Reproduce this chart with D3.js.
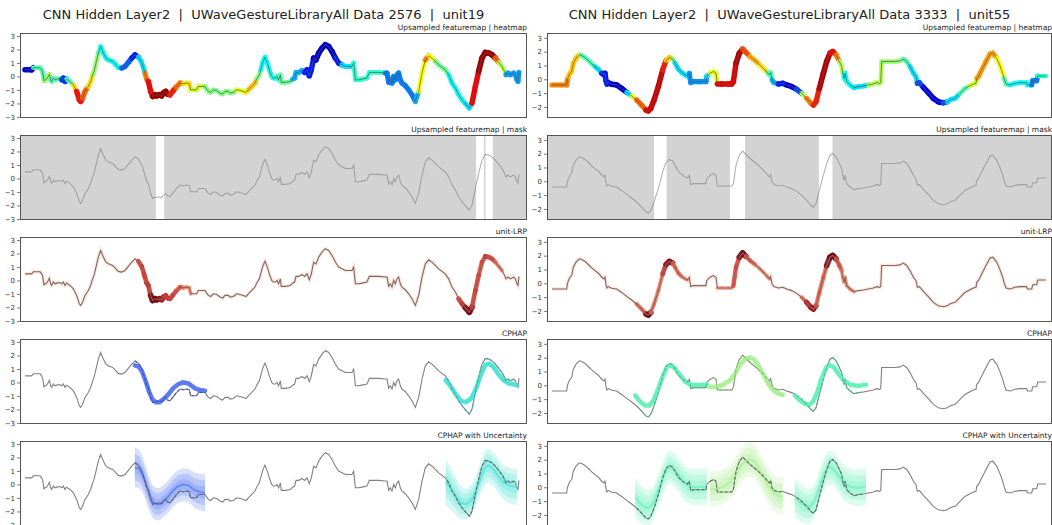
<!DOCTYPE html>
<html><head><meta charset="utf-8">
<script src="https://cdn.jsdelivr.net/npm/d3@7"></script>
<style>
body{margin:0;background:#fff}
text{font-family:"DejaVu Sans",sans-serif;white-space:pre}
</style>
</head><body>
<svg id="c" width="1052" height="525"></svg>
<script>
// ---------------- DATA ----------------
const titles = ["CNN Hidden Layer2  |  UWaveGestureLibraryAll Data 2576  |  unit19",
                "CNN Hidden Layer2  |  UWaveGestureLibraryAll Data 3333  |  unit55"];
const panelTitles = ["Upsampled featuremap | heatmap","Upsampled featuremap | mask","unit-LRP","CPHAP","CPHAP with Uncertainty"];
const yTicksLeft = [-3,-2,-1,0,1,2,3];
const yTicksRight = [-2,-1,0,1,2,3];

const leftSeries = [[0,0.49],[12.7,0.49],[15.9,0.64],[28.7,0.64],[31.9,0.49],[33.8,0.30],[36.3,-0.32],[38.2,-0.25],[41.4,-0.20],[44.6,0.0],[46.5,0.15],[49.1,-0.25],[51,-0.37],[54.2,-0.12],[57.3,-0.25],[60.5,-0.20],[66.9,-0.15],[70.1,-0.25],[73.3,-0.12],[76.4,-0.37],[79.6,-0.20],[86,-0.37],[92.4,-0.62],[98.7,-1.11],[103.8,-1.73],[106.4,-1.85],[110.2,-1.60],[114.7,-1.11],[121,-0.74],[125.5,-0.37],[129.3,0.12],[131.9,0.37],[135.7,0.99],[140.1,1.73],[144.6,2.22],[149.7,1.73],[154.8,1.36],[159.3,1.23],[167.5,1.11],[172,0.94],[178.4,0.67],[184.7,0.62],[191.1,0.74],[197.5,1.04],[203.8,1.36],[210.2,1.60],[216.6,1.43],[223,1.04],[227.4,0.49],[229.3,0.25],[232.5,-0.20],[235.7,-0.37],[240.1,-1.11],[244,-1.48],[248.4,-1.36],[251.6,-1.43],[256.7,-1.36],[261.2,-1.43],[264.4,-1.23],[268.8,-1.11],[272.6,-1.31],[277.1,-1.36],[282.2,-1.11],[288.6,-0.79],[296.2,-0.49],[302.6,-0.54],[308.9,-0.49],[314,-0.54],[316.6,-0.99],[328,-0.99],[331.2,-0.74],[344,-0.74],[347.2,-0.94],[350.4,-1.11],[354.8,-1.19],[359.9,-0.99],[366.3,-1.04],[372.6,-1.23],[377.7,-1.31],[382.2,-1.11],[388.6,-1.11],[391.8,-1.23],[398.1,-1.19],[404.5,-0.99],[410.9,-1.04],[417.2,-1.11],[422.3,-1.19],[426.8,-0.99],[433.2,-0.74],[439.5,-0.49],[442.7,-0.20],[447.8,0.12],[450.4,0.49],[454.2,1.04],[458.6,1.43],[463.1,0.99],[466.9,0.49],[471.4,0.0],[474.6,-0.12],[478.4,-0.12],[481.6,0.0],[484.7,-0.25],[487.9,0.12],[489.8,-0.44],[497.5,-0.44],[507,-0.37],[511.5,-0.20],[515.3,-0.12],[517.9,0.30],[523,0.30],[529.3,0.44],[534.4,0.30],[538.9,0.49],[543.3,0.05],[547.2,0.49],[551.6,1.36],[556.1,1.23],[561.2,1.73],[567.6,2.10],[573.9,2.35],[580.3,2.22],[586.7,1.85],[593,1.36],[599.4,0.99],[605.8,0.86],[612.1,0.74],[618.5,0.74],[624.9,0.74],[628.1,0.99],[631.3,-0.25],[637.6,-0.25],[644,-0.20],[653.5,-0.12],[658,0.30],[663.1,0.30],[675.8,0.30],[688.6,0.25],[691.8,0.25],[695,-0.44],[698.1,-0.25],[701.3,-0.49],[704.5,0.0],[707.7,-0.25],[710.9,0.12],[714.1,0.25],[717.2,-0.25],[720.4,-0.49],[726.8,-0.69],[733.2,-0.99],[739.5,-1.36],[745.9,-1.85],[752.3,-1.11],[758.7,0.25],[765,1.23],[771.4,1.53],[777.8,1.36],[784.1,1.11],[790.5,0.86],[796.9,0.67],[803.2,0.49],[806.4,0.30],[809.6,0.12],[816,-0.49],[822.4,-0.86],[828.7,-1.36],[835.1,-1.73],[841.5,-2.02],[849.1,-2.35],[854.2,-1.98],[860.6,-0.74],[866.9,0.37],[873.3,1.36],[879.7,1.78],[886.1,1.73],[892.4,1.60],[898.8,1.36],[905.2,1.04],[911.5,0.74],[916.6,0.37],[919.2,0.12],[923,0.25],[927.5,0.12],[933.8,0.25],[937,0.12],[940.2,-0.25],[942.1,-0.37],[944,0.30]];

const rightSeries = [[0,-0.41],[28.1,-0.41],[29.3,-0.05],[31.3,0.19],[34.4,0.44],[37.6,0.56],[40.8,1.17],[45.9,1.53],[52.3,1.77],[56.7,1.72],[63.1,1.58],[69.5,1.36],[75.8,1.12],[82.2,0.92],[88.6,0.73],[95,0.44],[99.4,0.32],[101.3,0.44],[103.2,-0.10],[105.1,-0.34],[107.7,-0.24],[114.1,-0.36],[123.6,-0.41],[133.2,-0.66],[142.7,-0.95],[152.3,-1.21],[161.8,-1.50],[171.4,-1.87],[179.7,-2.23],[184.1,-2.28],[188.6,-2.11],[195,-1.50],[203.2,-0.53],[211.5,0.68],[217.9,1.36],[224.3,1.58],[230.6,1.46],[235.1,1.17],[241.5,0.73],[247.8,0.49],[254.2,0.32],[258.7,0.24],[262.5,0.44],[265,-0.24],[270.1,-0.17],[279.7,-0.17],[294.3,-0.17],[295.6,0.19],[302,0.44],[308.4,0.56],[313.4,0.44],[316,-0.34],[324.3,-0.34],[337,-0.34],[343.4,-0.34],[346.6,-0.17],[351.7,1.17],[358,1.89],[364.4,2.18],[370.8,1.94],[378.4,1.65],[388,1.36],[397.5,1.04],[403.9,0.80],[411.5,0.49],[415.4,0.32],[417.9,0.49],[420.5,-0.05],[424.3,-0.24],[432.6,-0.34],[440.8,-0.29],[448.5,-0.41],[458,-0.53],[467.6,-0.73],[477.2,-1.02],[486.7,-1.38],[495,-1.75],[499.5,-1.87],[504.5,-1.63],[510.9,-0.66],[518.6,0.44],[524.9,1.29],[531.3,1.89],[536.4,2.01],[542.8,1.77],[549.1,1.29],[553.6,0.92],[555.5,0.44],[558.1,0.07],[560,0.44],[563.2,-0.17],[569.5,-0.41],[577.2,-0.61],[585.4,-0.53],[595,-0.49],[604.6,-0.41],[614.1,-0.34],[620.5,-0.24],[625.6,-0.29],[628.1,-0.24],[630,1.29],[642.8,1.29],[655.5,1.29],[665.1,1.33],[671.4,1.46],[677.8,1.29],[684.2,0.92],[690.6,0.44],[695.6,0.19],[698.2,-0.29],[702,-0.24],[709.7,-0.58],[719.2,-0.97],[728.8,-1.38],[738.3,-1.63],[747.9,-1.70],[755.5,-1.63],[761.9,-1.46],[770.2,-1.38],[779.7,-1.02],[789.3,-0.66],[797.6,-0.49],[805.2,-0.34],[810.3,-0.29],[811.6,0.07],[814.8,0.19],[821.1,0.68],[829.4,1.29],[837.1,1.84],[842.2,1.89],[849.8,1.53],[856.2,0.97],[861.3,0.44],[863.8,0.07],[867.6,-0.34],[875.3,-0.41],[884.8,-0.29],[894.4,-0.24],[907.1,-0.24],[908.4,-0.41],[916.7,-0.41],[918.6,-0.10],[926.2,-0.10],[928.2,0.24],[944,0.24]];

// heatmap activation: [tStart, tEnd, level 0..1]
const leftHeat = [[0,16,0.08],[16,36,0.45],[36,49,0.52],[49,71,0.45],[71,81,0.18],[81,91,0.45],[91,97,0.65],[97,110,0.86],[110,123,0.78],[123,129,0.65],[129,139,0.52],[139,146,0.45],[146,184,0.38],[184,207,0.22],[207,216,0.15],[216,229,0.35],[229,236,0.75],[236,245,0.88],[245,275,0.97],[275,287,0.85],[287,304,0.76],[304,316,0.65],[316,339,0.58],[339,404,0.5],[404,429,0.6],[429,442,0.68],[442,452,0.5],[452,468,0.38],[468,487,0.4],[487,513,0.48],[513,536,0.3],[536,552,0.15],[552,591,0.07],[591,603,0.15],[603,629,0.35],[629,687,0.42],[687,745,0.25],[745,755,0.3],[755,762,0.62],[762,774,0.75],[774,784,0.62],[784,810,0.48],[810,845,0.38],[845,855,0.35],[855,865,0.88],[865,900,0.97],[900,907,0.78],[907,920,0.55],[920,945,0.28]];
const rightHeat = [[0,31,0.75],[31,52,0.68],[52,57,0.55],[57,82,0.45],[82,95,0.35],[95,111,0.15],[111,143,0.07],[143,152,0.35],[152,162,0.6],[162,178,0.78],[178,190,0.9],[190,212,0.92],[212,220,0.85],[220,228,0.68],[228,238,0.5],[238,263,0.35],[263,296,0.27],[296,305,0.35],[305,315,0.6],[315,350,0.9],[350,365,0.95],[365,375,0.8],[375,397,0.7],[397,410,0.65],[410,420,0.45],[420,430,0.3],[430,445,0.15],[445,470,0.08],[470,475,0.2],[475,484,0.55],[484,498,0.75],[498,510,0.85],[510,530,0.95],[530,540,0.88],[540,550,0.75],[550,557,0.55],[557,575,0.38],[575,608,0.35],[608,630,0.55],[630,672,0.52],[672,685,0.45],[685,697,0.35],[697,710,0.2],[710,748,0.1],[748,758,0.2],[758,778,0.35],[778,798,0.45],[798,811,0.58],[811,850,0.72],[850,863,0.62],[863,875,0.45],[875,913,0.38],[913,933,0.25],[933,945,0.42]];

// mask: unmasked windows [tStart, tEnd]
const leftMaskGaps = [[250,266],[862,877],[880,894]];
const rightMaskGaps = [[195,219],[340,369],[510,536]];

// unit-LRP relevance: [tStart, tEnd, level 0..1]
const leftLRP = [[215,234,0.55],[234,241,0.6],[241,257,0.95],[257,263,0.8],[263,276,0.6],[276,289,0.55],[289,305,0.45],[305,318,0.2],[827,840,0.6],[840,856,0.95],[856,869,0.55],[869,879,0.5],[879,888,0.6],[888,901,0.5],[901,910,0.25]];
const rightLRP = [[162,178,0.35],[178,189,0.95],[189,213,0.3],[213,219,0.6],[219,231,0.9],[231,245,0.35],[245,260,0.2],[315,347,0.15],[347,359,0.5],[359,372,0.95],[372,391,0.4],[391,415,0.2],[480,490,0.35],[490,503,0.8],[503,525,0.4],[525,541,0.95],[541,554,0.45],[554,576,0.2]];

// CPHAP prototypes [t, value] with per-point uncertainty (sigma)
const leftBlueProto = [[210,1.27],[218,1.15],[224,0.78],[231,0.05],[237,-0.68],[244,-1.29],[250,-1.46],[257,-1.46],[263,-1.29],[273,-0.93],[283,-0.44],[292,-0.15],[302,0.0],[312,-0.07],[318,-0.24],[325,-0.44],[334,-0.56],[344,-0.61]];
const leftBlueSigma = [0.5,0.47,0.44,0.42,0.41,0.4,0.4,0.4,0.4,0.4,0.4,0.4,0.4,0.41,0.42,0.44,0.45,0.47];
const leftCyanProto = [[804,0.17],[814,-0.32],[824,-0.93],[833,-1.37],[843,-1.46],[853,-1.17],[862,-0.44],[872,0.66],[880,1.32],[887,1.39],[895,1.15],[905,0.59],[914,0.17],[924,-0.07],[940,-0.2]];
const leftCyanSigma = [0.58,0.52,0.46,0.41,0.38,0.38,0.38,0.4,0.42,0.42,0.42,0.42,0.43,0.44,0.45];
const rightProto1 = [[159,-0.73],[168,-1.17],[178,-1.46],[186,-1.46],[194,-1.10],[203,-0.24],[213,0.78],[220,1.34],[227,1.46],[235,1.22],[245,0.73],[254,0.29],[264,0.05],[276,0.0],[296,0.05]];
const rightSigma1 = [0.48,0.46,0.44,0.42,0.4,0.4,0.4,0.4,0.4,0.4,0.41,0.42,0.43,0.44,0.44];
const rightProto2 = [[302,-0.12],[315,-0.12],[327,0.05],[340,0.37],[350,0.85],[359,1.46],[369,1.90],[378,2.02],[386,1.88],[394,1.46],[404,0.78],[413,0.12],[423,-0.37],[432,-0.61],[441,-0.68]];
const rightSigma2 = [0.42,0.42,0.42,0.42,0.42,0.42,0.42,0.42,0.42,0.42,0.42,0.42,0.43,0.44,0.45];
const rightProto3 = [[464,-0.73],[474,-1.10],[484,-1.34],[492,-1.41],[499,-1.17],[507,-0.49],[515,0.49],[524,1.27],[530,1.46],[538,1.34],[547,0.85],[557,0.37],[570,0.05],[585,-0.05],[600,0.05]];
const rightSigma3 = [0.48,0.46,0.44,0.42,0.4,0.4,0.4,0.4,0.4,0.4,0.41,0.42,0.43,0.44,0.45];
const bandLevels = [3,2,1];

// ---------------- DRAWING ----------------
const svg = d3.select("#c");
const panelTops = [33,135,237,339,441];
const PH = 85;
const jet = h => { const c = x => Math.max(0, Math.min(1, x));
  return d3.rgb(255*c(1.5-Math.abs(4*h-3)), 255*c(1.5-Math.abs(4*h-2)), 255*c(1.5-Math.abs(4*h-1))).toString(); };
const segVal = (segs, t) => { for (const s of segs) if (t >= s[0] && t < s[1]) return s[2]; return null; };

const cols = [
  {x0:20, pw:507, titleX:263.5, title:titles[0], series:leftSeries, heat:leftHeat, gaps:leftMaskGaps, lrp:leftLRP,
   yDom:[-3.08,3.22], ticks:yTicksLeft,
   protos:[{p:leftBlueProto,s:leftBlueSigma,c:"#4a6cf0"},{p:leftCyanProto,s:leftCyanSigma,c:"#3ee0d0"}]},
  {x0:547, pw:505, titleX:789.5, title:titles[1], series:rightSeries, heat:rightHeat, gaps:rightMaskGaps, lrp:rightLRP,
   yDom:[-2.8,3.35], ticks:yTicksRight,
   protos:[{p:rightProto1,s:rightSigma1,c:"#5af0b4"},{p:rightProto2,s:rightSigma2,c:"#a4ee8c"},{p:rightProto3,s:rightSigma3,c:"#5af0b4"}]}
];

cols.forEach((col, ci) => {
  const PW = col.pw;
  svg.append("text").attr("x", col.titleX).attr("y", 18.5).attr("text-anchor","middle")
    .attr("font-size", 13).attr("fill","#222").text(col.title);
  const x = d3.scaleLinear().domain([-9.55, 959.3]).range([col.x0, col.x0 + 507]);
  panelTitles.forEach((pt, pi) => {
    const top = panelTops[pi];
    const y = d3.scaleLinear().domain(col.yDom).range([top + PH, top]);
    const cid = `clip${ci}_${pi}`;
    svg.append("clipPath").attr("id", cid).append("rect")
      .attr("x", col.x0).attr("y", top).attr("width", PW).attr("height", PH);
    const g = svg.append("g").attr("clip-path", `url(#${cid})`);
    const line = d3.line().x(d => x(d[0])).y(d => y(d[1]));

    if (pi === 0) {
      const s = col.series;
      for (let i = 0; i < s.length - 1; i++) {
        const h = segVal(col.heat, (s[i][0] + s[i+1][0]) / 2);
        g.append("line").attr("x1", x(s[i][0])).attr("y1", y(s[i][1]))
          .attr("x2", x(s[i+1][0])).attr("y2", y(s[i+1][1]))
          .attr("stroke", jet(h)).attr("stroke-width", 4.5 + 2.5*Math.abs(h-0.5))
          .attr("stroke-linecap","round");
      }
      g.append("path").attr("d", line(s)).attr("fill","none").attr("stroke","#555").attr("stroke-width",0.9).attr("opacity",0.8);
    } else if (pi === 1) {
      g.append("rect").attr("x", col.x0).attr("y", top).attr("width", PW).attr("height", PH).attr("fill","#d3d3d3");
      col.gaps.forEach(gp => g.append("rect").attr("x", x(gp[0])).attr("y", top)
        .attr("width", x(gp[1]) - x(gp[0])).attr("height", PH).attr("fill","#fff"));
      g.append("path").attr("d", line(col.series)).attr("fill","none").attr("stroke","#808080").attr("stroke-width",1.1).attr("opacity",0.6);
    } else if (pi === 2) {
      g.append("path").attr("d", line(col.series)).attr("fill","none").attr("stroke","#fbd3c3").attr("stroke-width",3.5).attr("opacity",0.6);
      const s = col.series;
      for (let i = 0; i < s.length - 1; i++) {
        const r = segVal(col.lrp, (s[i][0] + s[i+1][0]) / 2);
        if (r === null) continue;
        g.append("line").attr("x1", x(s[i][0])).attr("y1", y(s[i][1]))
          .attr("x2", x(s[i+1][0])).attr("y2", y(s[i+1][1]))
          .attr("stroke", d3.interpolateReds(0.25 + 0.75*r)).attr("stroke-width", 3 + 3*r)
          .attr("stroke-linecap","round").attr("opacity",0.85);
      }
      g.append("path").attr("d", line(s)).attr("fill","none").attr("stroke","#7a6a68").attr("stroke-width",1.1);
    } else if (pi === 3) {
      g.append("path").attr("d", line(col.series)).attr("fill","none").attr("stroke","#808080").attr("stroke-width",1.1);
      col.protos.forEach(pr => {
        const t0 = pr.p[0][0], t1 = pr.p[pr.p.length-1][0];
        g.append("path").attr("d", line(pr.p)).attr("fill","none").attr("stroke", pr.c)
          .attr("stroke-width", 4.5).attr("stroke-linecap","round").attr("opacity",0.9);
        const win = col.series.filter(d => d[0] >= t0 && d[0] <= t1);
        g.append("path").attr("d", line(win)).attr("fill","none").attr("stroke", d3.color(pr.c).darker(0.6))
          .attr("stroke-width", 1.1).attr("stroke-dasharray","3,2");
      });
    } else {
      g.append("path").attr("d", line(col.series)).attr("fill","none").attr("stroke","#808080").attr("stroke-width",1.1);
      col.protos.forEach(pr => {
        const t0 = pr.p[0][0], t1 = pr.p[pr.p.length-1][0];
        bandLevels.forEach(k => {
          const area = d3.area().x(d => x(d[0])).y0((d,i) => y(d[1] - k*pr.s[i])).y1((d,i) => y(d[1] + k*pr.s[i]));
          g.append("path").attr("d", area(pr.p)).attr("fill", pr.c).attr("opacity", 0.22);
        });
        g.append("path").attr("d", line(pr.p)).attr("fill","none").attr("stroke", pr.c)
          .attr("stroke-width", 2).attr("opacity",0.6);
        const win = col.series.filter(d => d[0] >= t0 && d[0] <= t1);
        g.append("path").attr("d", line(win)).attr("fill","none").attr("stroke", "#666")
          .attr("stroke-width", 1.1).attr("stroke-dasharray","3,2");
      });
    }
    // frame
    svg.append("rect").attr("x", col.x0 + 0.5).attr("y", top + 0.5).attr("width", PW - 1).attr("height", PH - 1)
      .attr("fill","none").attr("stroke","#444").attr("stroke-width",0.9);
    // y axis
    const ax = svg.append("g").attr("transform", `translate(${col.x0},0)`)
      .call(d3.axisLeft(y).tickValues(col.ticks).tickSize(3).tickPadding(2).tickFormat(d3.format("d")));
    ax.select(".domain").remove();
    ax.selectAll("text").attr("font-size", 7).attr("fill","#333").style("font-family","DejaVu Sans");
    ax.selectAll("line").attr("stroke","#444").attr("stroke-width",0.7);
    // panel title
    svg.append("text").attr("x", col.x0 + PW).attr("y", top - 3).attr("text-anchor","end")
      .attr("font-size", 7.5).attr("fill","#222").text(pt);
  });
});
</script></body></html>
